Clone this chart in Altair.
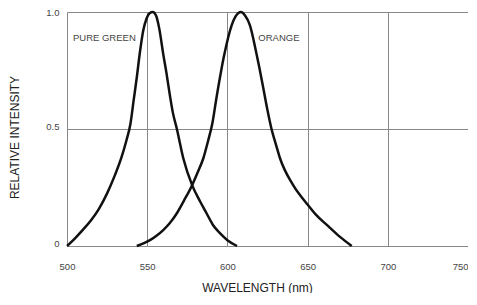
import altair as alt
import pandas as pd

green_wl = [500, 505, 510, 515, 520, 525, 530, 534, 537, 539.5, 541.5, 543.5, 545.5, 547.5, 549.5, 551.5,
            553.5, 555.5, 557.5, 560, 562, 564, 566, 568.5, 572.5, 578, 583, 587, 591, 595.5, 600, 606]
green_int = [0, 0.033, 0.07, 0.11, 0.16, 0.225, 0.305, 0.38, 0.45, 0.52, 0.62, 0.72, 0.83, 0.92, 0.97, 0.995,
             1.0, 0.985, 0.93, 0.82, 0.74, 0.65, 0.57, 0.50, 0.375, 0.26, 0.19, 0.14, 0.09, 0.054, 0.025, 0.0]

orange_wl = [543.5, 548, 552, 556, 560, 564, 568.5, 573, 578, 581.5, 585, 588, 590.5, 593.3, 598, 602.7, 605,
             608.5, 611, 614, 618.3, 620, 622.4, 625, 627.5, 630, 632.8, 641, 649.4, 655, 662, 670, 677.5]
orange_int = [0, 0.012, 0.026, 0.045, 0.068, 0.097, 0.14, 0.195, 0.26, 0.315, 0.375, 0.45, 0.52, 0.638, 0.816,
              0.944, 0.98, 1.0, 0.985, 0.944, 0.816, 0.76, 0.674, 0.58, 0.50, 0.44, 0.375, 0.26, 0.182, 0.135,
              0.09, 0.04, 0.0]

label_text = ["PURE GREEN", "ORANGE"]
label_wl = [543.5, 619.3]
label_int = [0.888, 0.888]
label_align = ["right", "left"]

x_ticks = [500, 550, 600, 650, 700, 750]
y_ticks = [0, 0.5, 1.0]

df = pd.concat([
    pd.DataFrame({"wl": green_wl, "intensity": green_int, "series": "PURE GREEN"}),
    pd.DataFrame({"wl": orange_wl, "intensity": orange_int, "series": "ORANGE"}),
])
labels = pd.DataFrame({"text": label_text, "wl": label_wl, "intensity": label_int, "align": label_align})

FONT = "Liberation Sans"

x = alt.X("wl:Q", scale=alt.Scale(domain=[500, 750], nice=False, zero=False),
          axis=alt.Axis(values=x_ticks, grid=True, gridColor="#888", gridWidth=1, domain=False,
                        ticks=False, labelPadding=15, labelFontSize=9.5, labelColor="#444",
                        labelFont=FONT, labelFlush=False, labelOverlap=False, labelBound=False,
                        labelAlign={"condition": {"test": "datum.value == 750", "value": "right"},
                                    "value": "center"},
                        title="WAVELENGTH (nm)", titleFont=FONT, titleFontSize=12,
                        titleFontWeight="normal", titleColor="#222", titleX=190, titleY=41,
                        titleBaseline="middle", titleAlign="center"))
y = alt.Y("intensity:Q", scale=alt.Scale(domain=[0, 1], nice=False),
          axis=alt.Axis(values=y_ticks, grid=True, gridColor="#888", gridWidth=1, domain=False,
                        ticks=False, labelPadding=8, labelFontSize=9.5, labelColor="#444",
                        labelFont=FONT, labelFlush=False, labelBaseline="alphabetic",
                        labelOffset={"condition": {"test": "datum.value == 1", "value": 3}, "value": 0},
                        labelExpr="datum.value == 0 ? '0' : format(datum.value, '.1f')",
                        title="RELATIVE INTENSITY", titleFont=FONT, titleFontSize=12,
                        titleFontWeight="normal", titleColor="#222", titleX=-53, titleY=125,
                        titleAngle=-90, titleBaseline="middle", titleAlign="center"))

lines = alt.Chart(df).mark_line(interpolate="monotone", strokeWidth=2.5, color="#111").encode(
    x=x, y=y, detail="series:N")

left_lab = alt.Chart(labels[labels["align"] == "right"]).mark_text(
    align="right", baseline="middle", font=FONT, fontSize=9.5, color="#444", dx=-1
).encode(x="wl:Q", y="intensity:Q", text="text:N")
right_lab = alt.Chart(labels[labels["align"] == "left"]).mark_text(
    align="left", baseline="middle", font=FONT, fontSize=9.5, color="#444"
).encode(x="wl:Q", y="intensity:Q", text="text:N")

chart = alt.layer(lines, left_lab, right_lab).properties(
    width=401, height=234,
    autosize=alt.AutoSizeParams(type="none"),
    padding={"left": 59, "top": 4, "right": 0, "bottom": 47},
).configure_view(stroke="#888", strokeWidth=1).configure(background="white")

chart.save("out.html", embed_options={"renderer": "svg", "actions": False})
